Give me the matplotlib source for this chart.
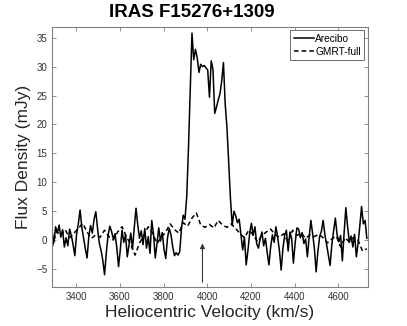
import numpy as np
import matplotlib
matplotlib.use("Agg")
import matplotlib.pyplot as plt

plt.rcParams['font.family'] = ['Liberation Sans', 'DejaVu Sans']

# Arecibo spectrum, 8 km/s channels starting at 3290 km/s
arecibo_v0 = 3290
arecibo_dv = 8
arecibo_flux = [
    1.5, -0.5, 2.3, 1.2, 2.6, 0.5, 1.8, -1.2, 0.4, -1.0,
    1.9, 0.8, -0.8, -2.7, 1.0, 2.8, 5.2, 2.2, 0.3, -1.5,
    -3.1, 0.6, 2.5, 1.2, 3.6, 4.9, 2.0, -0.5, -1.8, -3.5,
    -6.0, -2.2, 0.8, 2.4, 1.5, 0.2, 1.1, -1.3, -4.6, -1.7,
    1.7, -0.4, 0.9, -2.9, -0.8, 1.2, -1.5, 2.2, 5.5, 2.6,
    0.3, 1.6, -0.8, 2.0, -1.4, 0.6, -2.3, 3.4, 1.0, -3.1,
    -0.6, 2.1, -0.2, 1.3, -1.6, -3.2, 0.4, 2.0, 0.9, -1.2,
    -2.7, -2.2, -2.6, -2.0, 2.0, 4.3, 3.6, 7.5, 16.0, 26.0,
    35.8, 31.2, 33.0, 31.5, 29.0, 30.4, 30.0, 30.2, 29.8, 29.4,
    24.7, 31.0, 29.5, 21.9, 23.0, 24.2, 25.3, 27.5, 30.7, 23.5,
    19.5, 13.5, 7.2, 2.5, 5.0, 4.2, 3.0, 3.6, 1.0, -1.7,
    0.5, -4.3, -1.8, 1.2, 2.9, 0.8, 2.3, -0.6, -1.4, 0.2,
    1.4, -1.0, 0.3, -2.1, -4.3, -1.2, 0.9, -0.4, 2.3, 0.5,
    -1.8, -5.2, -1.5, 0.8, 1.7, -1.9, 1.4, 0.3, -4.0, -0.5,
    2.1, 1.9, 0.4, 1.3, -0.6, 0.2, -2.9, 0.5, 3.4, 1.1,
    -1.4, -5.5, -2.0, 0.6, 1.5, 3.4, 1.0, -0.8, -2.5, -4.4,
    -0.7, 1.6, 3.8, 0.9, -0.3, 0.8, -3.6, 1.2, 5.6, 2.3,
    -0.4, 0.7, -1.2, 1.0, -2.9, -0.6, 2.5, 5.8, 2.8, 3.4,
    0.3,
]

# GMRT spectrum, 20 km/s channels starting at 3290 km/s
gmrt_v0 = 3290
gmrt_dv = 20
gmrt_flux = [
    -1.3, 1.5, 0.8, 1.8, 0.4, 1.2, 2.0, 2.9, 1.4, 0.3,
    0.9, 0.5, 1.7, 0.6, 0.0, 1.4, 2.3, 0.6, -0.8, -2.6,
    -0.5, 0.8, 2.3, 1.2, -0.6, 0.5, 1.4, 2.8, 1.8, 1.2,
    3.0, 2.4, 3.8, 4.7, 2.6, 2.2, 2.7, 2.1, 3.4, 2.6,
    2.2, 2.8, 2.0, 1.1, 0.4, 1.7, 0.9, -0.3, 0.8, 1.4,
    1.9, 0.9, 0.5, 1.1, -0.4, 1.7, 0.8, 1.2, 0.3, 0.9,
    0.6, 1.0, 0.4, -0.5, 0.2, 0.7, -1.2, 0.4, -0.3, 0.5,
    0.0, -1.9, -1.5,
]

arrow_v = 3978
arrow_y = (-7.3, -0.6)

v_are = arecibo_v0 + arecibo_dv * np.arange(len(arecibo_flux))
v_gmrt = gmrt_v0 + gmrt_dv * np.arange(len(gmrt_flux))

fig = plt.figure(figsize=(4.07, 3.26), dpi=100)
ax = fig.add_axes([0.128, 0.12, 0.776, 0.798])

ax.plot(v_are, arecibo_flux, color='black', lw=1.1, label='Arecibo')
ax.plot(v_gmrt, gmrt_flux, color='black', lw=1.1, ls='--', dashes=(3, 2),
        label='GMRT-full')

ax.annotate('', xy=(arrow_v, arrow_y[1]), xytext=(arrow_v, arrow_y[0]),
            arrowprops=dict(arrowstyle='-|>', color='#333333', lw=0.8,
                            mutation_scale=7, shrinkA=0, shrinkB=0))

ax.set_xlim(3290, 4735)
ax.set_ylim(-8.1, 36.9)
ax.set_xticks(np.arange(3400, 4601, 200))
ax.set_yticks(np.arange(-5, 36, 5))

gray = '#808080'
for s in ax.spines.values():
    s.set_color(gray)
    s.set_linewidth(0.8)
ax.tick_params(direction='in', length=3, width=0.6, color=gray,
               labelsize=7, labelcolor='#333333', top=True, right=True)

fig.text(0.472, 0.963, 'IRAS F15276+1309', fontsize=13.5, fontweight='bold',
         ha='center', va='center')
ax.set_xlabel('Heliocentric Velocity (km/s)', fontsize=12.5, color='#262626',
              labelpad=2)
ax.set_ylabel('Flux Density (mJy)', fontsize=12.5, color='#262626',
              labelpad=4)

leg = ax.legend(loc='upper right', fontsize=7.3, handlelength=2.0,
                handletextpad=0.1, borderpad=0.35, labelspacing=0.3,
                borderaxespad=0.35, fancybox=False, framealpha=1)
leg.get_frame().set_edgecolor('#555555')
leg.get_frame().set_linewidth(0.6)

fig.savefig('out.png', dpi=100)
